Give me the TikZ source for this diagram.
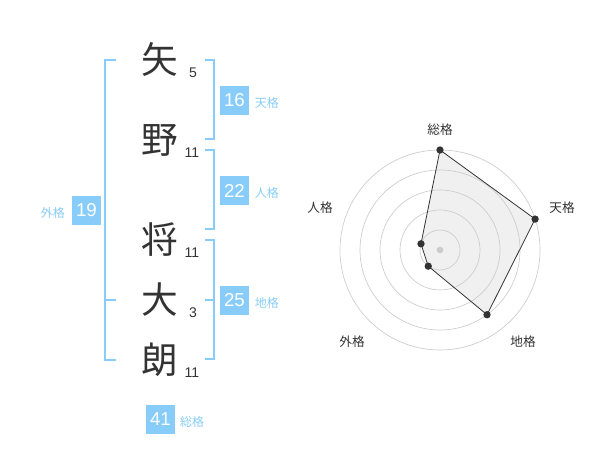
\documentclass[tikz,border=0pt]{standalone}
\usepackage{fontspec}
\usetikzlibrary{positioning, calc}
\setmainfont{Liberation Sans}
\newfontfamily\jpfont{Noto Sans CJK JP}
\definecolor{kakublue}{HTML}{88CDF9}
\definecolor{inkgray}{HTML}{333333}
\begin{document}
\begin{tikzpicture}[
            x=0.75pt, y=-0.75pt,
            kanji/.style={
                text=inkgray, inner sep=0, font=\jpfont\fontsize{27.5}{28}\selectfont
            },
            strokes/.style={
                text=inkgray, inner sep=0, font=\fontsize{10.5}{11}\selectfont
            },
            kakubox/.style={
                fill=kakublue, text=white, minimum size=21.75pt, inner sep=0, font=\fontsize{14}{14}\selectfont
            },
            kakulabel/.style={
                text=kakublue, inner sep=0, font=\jpfont\fontsize{9}{10}\selectfont
            },
            bracket/.style={
                draw=kakublue, line width=1.5pt
            },
            ring/.style={
                draw=black!20, line width=0.5pt
            },
            axislabel/.style={
                text=inkgray, inner sep=0, font=\jpfont\fontsize{9.5}{10}\selectfont
            },
            radardot/.style={
                circle, fill=inkgray, inner sep=0, minimum size=5.5pt
            }
        ]
        \useasboundingbox (0, 0) rectangle (600, 470);

        % name
        \node[kanji] (ya) at (160, 60) {矢};
        \node[kanji] (no) at (160, 140) {野};
        \node[kanji] (sho) at (160, 240) {将};
        \node[kanji] (dai) at (160, 300) {大};
        \node[kanji] (ro) at (160, 360) {朗};
        \node[strokes] (ya-n) at (193, 73) {5};
        \node[strokes] (no-n) at (192, 153) {11};
        \node[strokes] (sho-n) at (192, 253) {11};
        \node[strokes] (dai-n) at (193, 313) {3};
        \node[strokes] (ro-n) at (192, 373) {11};

        % brackets
        \draw[bracket] (116, 60) -- (105, 60) -- (105, 360) -- (116, 360);
        \draw[bracket] (105, 300) -- (116, 300);
        \draw[bracket] (205, 60) -- (214, 60) -- (214, 139) -- (205, 139);
        \draw[bracket] (205, 150) -- (214, 150) -- (214, 229) -- (205, 229);
        \draw[bracket] (205, 240) -- (214, 240) -- (214, 359) -- (205, 359);
        \draw[bracket] (205, 300) -- (214, 300);

        % kaku
        \node[kakubox] (ten) at (234.5, 100.5) {16};
        \node[kakubox] (jin) at (234.5, 190.5) {22};
        \node[kakubox] (chi) at (234.5, 300.5) {25};
        \node[kakubox] (gai) at (86.5, 210.5) {19};
        \node[kakubox] (so) at (160.5, 419) {41};
        \node[kakulabel, right=4pt of ten, yshift=-2pt] (ten-l) {天格};
        \node[kakulabel, right=4pt of jin, yshift=-2pt] (jin-l) {人格};
        \node[kakulabel, right=4pt of chi, yshift=-2pt] (chi-l) {地格};
        \node[kakulabel, left=5pt of gai, yshift=-2pt] (gai-l) {外格};
        \node[kakulabel, right=3.5pt of so, yshift=-2pt] (so-l) {総格};

        % radar
        \coordinate (O) at (440, 250);
        \coordinate (p-so) at ($(O)+(-90:100)$);
        \coordinate (p-ten) at ($(O)+(-18:100)$);
        \coordinate (p-chi) at ($(O)+(54:80)$);
        \coordinate (p-gai) at ($(O)+(126:20)$);
        \coordinate (p-jin) at ($(O)+(198:20)$);
        \fill[black!6] (p-so) -- (p-ten) -- (p-chi) -- (p-gai) -- (p-jin) -- cycle;
        \draw[ring] (O) circle[radius=15pt];
        \draw[ring] (O) circle[radius=30pt];
        \draw[ring] (O) circle[radius=45pt];
        \draw[ring] (O) circle[radius=60pt];
        \draw[ring] (O) circle[radius=75pt];
        \draw[inkgray, line width=0.6pt] (p-so) -- (p-ten) -- (p-chi) -- (p-gai) -- (p-jin) -- cycle;
        \node[circle, fill=black!20, inner sep=0, minimum size=5pt] (c) at (O) {};
        \node[radardot] at (p-so) {};
        \node[radardot] at (p-ten) {};
        \node[radardot] at (p-chi) {};
        \node[radardot] at (p-gai) {};
        \node[radardot] at (p-jin) {};
        \node[axislabel] (so-a) at (440, 130) {総格};
        \node[axislabel] (ten-a) at (562, 208) {天格};
        \node[axislabel] (jin-a) at (320, 208) {人格};
        \node[axislabel] (gai-a) at (352, 342) {外格};
        \node[axislabel] (chi-a) at (523, 342) {地格};
        \end{tikzpicture}
\end{document}
